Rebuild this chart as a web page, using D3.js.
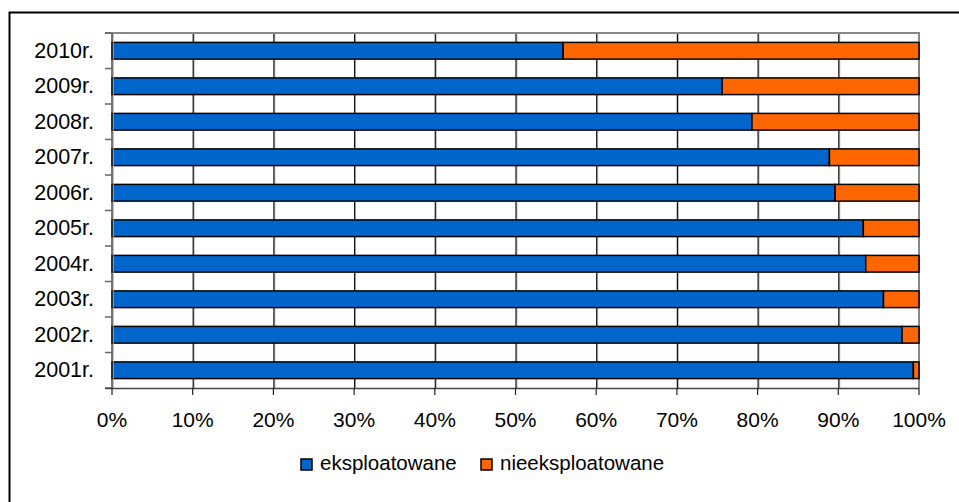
<!DOCTYPE html>
<html>
<head>
<meta charset="utf-8">
<script src="https://cdn.jsdelivr.net/npm/d3@7"></script>
<style>
  body { margin: 0; background: #fff; }
  text { font-family: "Liberation Sans", Arial, sans-serif; fill: #000; }
</style>
</head>
<body>
<div id="chart"></div>
<script>
// values (percent)
const years = ['2001r.', '2002r.', '2003r.', '2004r.', '2005r.', '2006r.', '2007r.', '2008r.', '2009r.', '2010r.'];
const eksploatowane = [99.3, 97.9, 95.6, 93.4, 93.1, 89.6, 88.9, 79.3, 75.6, 55.9];
const nieeksploatowane = [0.7, 2.1, 4.4, 6.6, 6.9, 10.4, 11.1, 20.7, 24.4, 44.1];
const xTicks = [0, 10, 20, 30, 40, 50, 60, 70, 80, 90, 100];
const seriesNames = ['eksploatowane', 'nieeksploatowane'];
const colors = ['#0066cc', '#ff6600'];

const width = 959, height = 502;
const margin = { top: 33, right: 40, bottom: 114, left: 112 };

let svg = d3.select('#chart').append('svg')
    .attr('width', width)
    .attr('height', height);

// outer frame (right/bottom edges fall outside the picture)
svg.append('path')
    .attr('d', 'M9.5,503 V12.5 H962')
    .attr('fill', 'none')
    .attr('stroke', '#000')
    .attr('stroke-width', 2);

let x = d3.scaleLinear().domain([0, 100]).range([margin.left, width - margin.right]);
let y = d3.scaleBand()
    .domain(years.slice().reverse())
    .range([margin.top, height - margin.bottom])
    .paddingInner(0.53)
    .paddingOuter(0.265);

let plotTop = margin.top, plotBottom = height - margin.bottom;

// gridlines (dark line with a light shadow)
let grid = svg.append('g');
xTicks.slice(1, -1).forEach(t => {
    grid.append('line')
        .attr('x1', x(t) + 1.5).attr('x2', x(t) + 1.5)
        .attr('y1', plotTop).attr('y2', plotBottom)
        .attr('stroke', '#bbb').attr('stroke-width', 1);
    grid.append('line')
        .attr('x1', x(t) + 0.5).attr('x2', x(t) + 0.5)
        .attr('y1', plotTop).attr('y2', plotBottom)
        .attr('stroke', '#111').attr('stroke-width', 1.2);
});

// plot top and right border (grey)
svg.append('path')
    .attr('d', `M${x(0) - 7},${plotTop} H${x(100)} V${plotBottom}`)
    .attr('fill', 'none')
    .attr('stroke', '#888')
    .attr('stroke-width', 2);

// stacked bars
let stackData = years.map((yr, i) => ({ year: yr, eksploatowane: eksploatowane[i], nieeksploatowane: nieeksploatowane[i] }));
let stacked = d3.stack().keys(seriesNames)(stackData);

svg.append('g').selectAll('g')
    .data(stacked)
    .join('g')
    .attr('fill', (d, i) => colors[i])
    .selectAll('rect')
    .data(d => d)
    .join('rect')
    .attr('x', d => x(d[0]))
    .attr('y', d => y(d.data.year))
    .attr('width', d => x(d[1]) - x(d[0]))
    .attr('height', y.bandwidth())
    .attr('stroke', '#000')
    .attr('stroke-width', 1.5);

// left axis line with shadow and category ticks
svg.append('line')
    .attr('x1', x(0) + 1.2).attr('x2', x(0) + 1.2)
    .attr('y1', plotTop).attr('y2', plotBottom)
    .attr('stroke', '#aaa').attr('stroke-width', 1);
svg.append('line')
    .attr('x1', x(0)).attr('x2', x(0))
    .attr('y1', plotTop).attr('y2', plotBottom)
    .attr('stroke', '#222').attr('stroke-width', 1.2);

let step = y.step();
let yAxis = svg.append('g');
d3.range(years.length + 1).forEach(i => {
    let yy = plotTop + i * step;
    yAxis.append('line')
        .attr('x1', x(0) - 7).attr('x2', x(0))
        .attr('y1', yy).attr('y2', yy)
        .attr('stroke', '#666').attr('stroke-width', 1.5);
});

yAxis.selectAll('text')
    .data(years)
    .join('text')
    .attr('x', 94)
    .attr('y', d => y(d) + y.bandwidth() / 2 + 7)
    .attr('text-anchor', 'end')
    .attr('font-size', 21.5)
    .text(d => d);

// bottom axis
let xAxis = svg.append('g');
xAxis.append('line')
    .attr('x1', x(0) - 7).attr('x2', x(100))
    .attr('y1', plotBottom + 0.5).attr('y2', plotBottom + 0.5)
    .attr('stroke', '#444').attr('stroke-width', 1.5);
xAxis.selectAll('line.tick')
    .data(xTicks)
    .join('line')
    .attr('class', 'tick')
    .attr('x1', d => x(d)).attr('x2', d => x(d))
    .attr('y1', plotBottom).attr('y2', plotBottom + 7)
    .attr('stroke', '#222').attr('stroke-width', 1.2);
xAxis.selectAll('text')
    .data(xTicks)
    .join('text')
    .attr('x', d => x(d))
    .attr('y', plotBottom + 39)
    .attr('text-anchor', 'middle')
    .attr('font-size', 21)
    .text(d => d + '%');

// legend
let legend = svg.append('g');
let legendX = [301, 481];
seriesNames.forEach((name, i) => {
    legend.append('rect')
        .attr('x', legendX[i]).attr('y', 459)
        .attr('width', 11).attr('height', 11)
        .attr('fill', colors[i])
        .attr('stroke', '#000').attr('stroke-width', 1.5);
    legend.append('text')
        .attr('x', legendX[i] + 19)
        .attr('y', 470)
        .attr('font-size', 20.5)
        .text(name);
});
</script>
</body>
</html>
